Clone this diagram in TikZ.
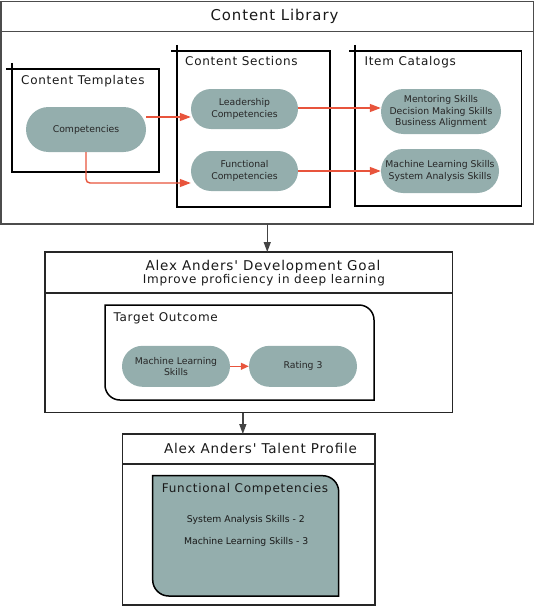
\documentclass[tikz,border=0pt]{standalone}
\usepackage{fontspec}
\setmainfont{DejaVu Sans}
\newfontfamily\titlef{DejaVu Sans}[LetterSpace=6]
\usetikzlibrary{arrows.meta,shapes.misc}
\definecolor{pillc}{RGB}{148,174,173}
\definecolor{arrred}{RGB}{232,84,60}
\definecolor{darkarr}{RGB}{68,68,68}
\newcommand{\smallf}{\fontsize{9.3}{11.2}\selectfont}
\newcommand{\secf}{\titlef\fontsize{12}{14}\selectfont}
\newcommand{\headf}{\titlef\fontsize{13.5}{15.5}\selectfont}
\newcommand{\topf}{\titlef\fontsize{14.9}{17}\selectfont}
\tikzset{
  container/.style={draw=black, line width=1.5pt, outer sep=0pt, inner sep=0pt, anchor=north west},
  pill/.style={rounded rectangle, fill=pillc, draw=none, inner sep=0pt, align=center, font=\smallf, text=black!85},
  ttl/.style={inner sep=0pt, text=black!90},
  redarr/.style={draw=arrred, line width=1.4pt, -{Triangle[length=11pt,width=8pt]}},
  grayarr/.style={draw=darkarr, line width=1.4pt, -{Triangle[length=10pt,width=7pt]}},
  tick/.style={draw=black, line width=1.5pt},
}
\begin{document}
\begin{tikzpicture}[x=1pt,y=-1pt]
\useasboundingbox (0,0) rectangle (537,610);

% ---- Content Library ----
\node[container, draw=black!70, minimum width=532.5pt, minimum height=222.5pt] (lib) at (1,1.5) {};
\draw[black!70, line width=1.5pt] ([yshift=-30pt]lib.north west) -- ([yshift=-30pt]lib.north east);
\node[ttl, font=\topf, anchor=base] (libt) at (274.5,20.7) {Content Library};

\node[container, minimum width=147pt, minimum height=103pt] (tmpl) at (12,69) {};
\draw[tick] ([xshift=-6pt]tmpl.north west) -- (tmpl.north west);
\draw[tick] ([yshift=6pt]tmpl.north west) -- (tmpl.north west);
\node[ttl, font=\secf, anchor=base west] (tmplt) at (21,84.3) {Content Templates};

\node[container, minimum width=153pt, minimum height=156pt] (sect) at (177,51) {};
\draw[tick] ([xshift=-6pt]sect.north west) -- (sect.north west);
\draw[tick] ([yshift=6pt]sect.north west) -- (sect.north west);
\node[ttl, font=\secf, anchor=base west] (sectt) at (185,66) {Content Sections};

\node[container, minimum width=166.7pt, minimum height=155pt] (cat) at (355,51) {};
\draw[tick] ([xshift=-6pt]cat.north west) -- (cat.north west);
\draw[tick] ([yshift=6pt]cat.north west) -- (cat.north west);
\node[ttl, font=\secf, anchor=base west] (catt) at (364.3,66) {Item Catalogs};

\node[pill, minimum width=120pt, minimum height=45pt] (comp) at (86,129.5) {Competencies};
\node[pill, minimum width=107pt, minimum height=40pt] (lead) at (244.5,109) {Leadership\\Competencies};
\node[pill, minimum width=107pt, minimum height=40pt] (func) at (244.5,171) {Functional\\Competencies};
\node[pill, minimum width=120pt, minimum height=45pt] (ment) at (441,111.5) {Mentoring Skills\\Decision Making Skills\\Business Alignment};
\node[pill, minimum width=118pt, minimum height=44pt] (mlcat) at (440,171) {Machine Learning Skills\\System Analysis Skills};

\draw[redarr] ([yshift=12.5pt]comp.east) -- ([yshift=12.5pt]comp.east -| lead.west);
\draw[redarr, rounded corners=4pt] (comp.south) |- ([yshift=-12pt]func.west);
\draw[redarr] ([yshift=1pt]lead.east) -- ([yshift=1pt]lead.east -| ment.west);
\draw[redarr] (func.east) -- (func.east -| mlcat.west);

% ---- Development Goal ----
\node[container, draw=black!85, minimum width=407.7pt, minimum height=160.7pt] (goal) at (45,252) {};
\draw[black!85, line width=1.5pt] ([yshift=-41pt]goal.north west) -- ([yshift=-41pt]goal.north east);
\node[ttl, font=\headf, anchor=base] (goalt) at (263,270) {Alex Anders' Development Goal};
\node[ttl, font=\secf, anchor=base] (goals) at (263.9,283.3) {Improve proficiency in deep learning};

\draw[line width=1.5pt] (105,305) -- (359,305) .. controls (367.3,305) and (374,311.7) .. (374,320)
  -- (374,400) -- (120,400) .. controls (111.7,400) and (105,393.3) .. (105,385) -- cycle;
\node[ttl, font=\secf, anchor=base west] (outt) at (113.3,321) {Target Outcome};
\node[pill, minimum width=108pt, minimum height=41pt] (mls) at (176,366.3) {Machine Learning\\Skills};
\node[pill, minimum width=108pt, minimum height=41pt] (rate) at (303,366.3) {Rating 3};
\draw[redarr, -{Triangle[length=8pt,width=7pt]}] (mls.east) -- (rate.west);

\draw[grayarr] (lib.south) -- (lib.south |- goal.north);

% ---- Talent Profile ----
\node[container, draw=black!85, minimum width=252.3pt, minimum height=171pt] (prof) at (122.7,434) {};
\draw[black!85, line width=1.5pt] ([yshift=-30pt]prof.north west) -- ([yshift=-30pt]prof.north east);
\node[ttl, font=\headf, anchor=base] (proft) at (260.5,453.3) {Alex Anders' Talent Profile};

\draw[line width=1.5pt, fill=pillc] (152.7,475.7) -- (322.7,475.7) .. controls (331.5,475.7) and (338.7,482.9) .. (338.7,491.7)
  -- (338.7,596) -- (168.7,596) .. controls (159.9,596) and (152.7,588.8) .. (152.7,580) -- cycle;
\node[ttl, font=\secf, anchor=base west] (fct) at (161.7,492) {Functional Competencies};
\node[ttl, font=\smallf, anchor=base] (fc1) at (245.8,522.7) {System Analysis Skills - 2};
\node[ttl, font=\smallf, anchor=base] (fc2) at (246.2,544.3) {Machine Learning Skills - 3};

\draw[grayarr] ([xshift=-6pt]goal.south) -- ([xshift=-6pt]goal.south |- prof.north);
\end{tikzpicture}
\end{document}
